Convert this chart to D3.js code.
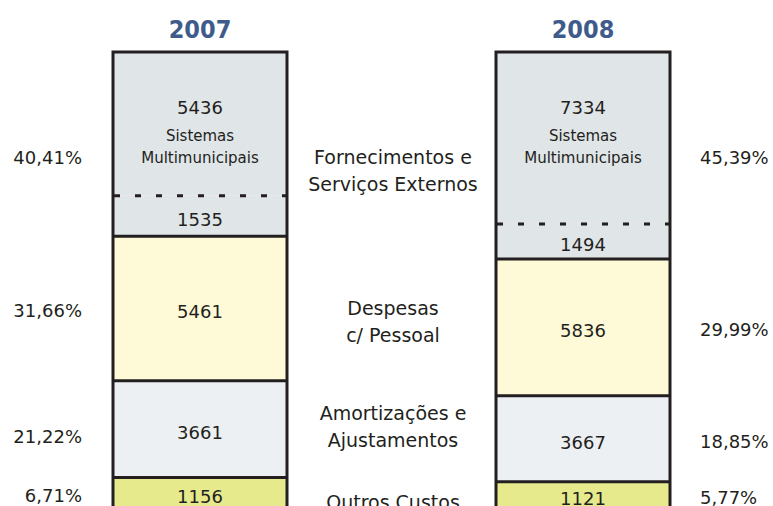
<!DOCTYPE html>
<html>
<head>
<meta charset="utf-8">
<script src="https://cdn.jsdelivr.net/npm/d3@7"></script>
<style>
  body { margin: 0; background: #fff; }
  text { font-family: "DejaVu Sans", sans-serif; fill: #231f20; }
</style>
</head>
<body>
<div id="container"></div>
<script>
/* DATA */
const years = ["2007", "2008"];
const sistemas = [5436, 7334];
const fseOutros = [1535, 1494];
const pessoal = [5461, 5836];
const amortizacoes = [3661, 3667];
const outrosCustos = [1156, 1121];
const pctLeft = ["40,41%", "31,66%", "21,22%", "6,71%"];
const pctRight = ["45,39%", "29,99%", "18,85%", "5,77%"];
const categoryLabels = [
  ["Fornecimentos e", "Serviços Externos"],
  ["Despesas", "c/ Pessoal"],
  ["Amortizações e", "Ajustamentos"],
  ["Outros Custos"]
];

/* CONSTANTS */
const width = 773, height = 506;
const barWidth = 174;
const keys = ["sistemas", "fseOutros", "pessoal", "amortizacoes", "outrosCustos"];
const fills = {
  sistemas: "#e0e5e8",
  fseOutros: "#e0e5e8",
  pessoal: "#fef9d6",
  amortizacoes: "#edf0f3",
  outrosCustos: "#e6ea8c"
};
// hand nudges for the middle labels (the original places them by eye)
const labelNudge = [2, 7, -4, 11];

const table = years.map((y, i) => ({
  year: y,
  sistemas: sistemas[i],
  fseOutros: fseOutros[i],
  pessoal: pessoal[i],
  amortizacoes: amortizacoes[i],
  outrosCustos: outrosCustos[i]
}));

const series = d3.stack().keys(keys).offset(d3.stackOffsetExpand)(table);

/* SCALES */
const xScale = d3.scalePoint().domain(years).range([200, 583]);
const yScale = d3.scaleLinear().domain([0, 1]).range([52, 508]);

const svg = d3.select("#container")
  .append("svg")
  .attr("width", width)
  .attr("height", height);

// segments
svg.selectAll("g.series")
  .data(series)
  .join("g")
  .attr("class", "series")
  .attr("fill", d => fills[d.key])
  .selectAll("rect")
  .data(d => d)
  .join("rect")
  .attr("x", d => xScale(d.data.year) - barWidth / 2)
  .attr("width", barWidth)
  .attr("y", d => yScale(d[0]))
  .attr("height", d => yScale(d[1]) - yScale(d[0]));

// boundaries between categories
const solidKeys = ["fseOutros", "pessoal", "amortizacoes"];
series.filter(s => solidKeys.includes(s.key)).forEach(s => {
  svg.selectAll(null)
    .data(s)
    .join("line")
    .attr("x1", d => xScale(d.data.year) - barWidth / 2)
    .attr("x2", d => xScale(d.data.year) + barWidth / 2)
    .attr("y1", d => yScale(d[1]))
    .attr("y2", d => yScale(d[1]))
    .attr("stroke", "#231f20")
    .attr("stroke-width", 3);
});

// dashed line between sistemas and the rest of FSE
svg.selectAll("line.dash")
  .data(series[0])
  .join("line")
  .attr("class", "dash")
  .attr("x1", d => xScale(d.data.year) - barWidth / 2 + 1)
  .attr("x2", d => xScale(d.data.year) + barWidth / 2)
  .attr("y1", d => yScale(d[1]))
  .attr("y2", d => yScale(d[1]))
  .attr("stroke", "#231f20")
  .attr("stroke-width", 3)
  .attr("stroke-dasharray", "6,15");

// outer borders
svg.selectAll("rect.border")
  .data(years)
  .join("rect")
  .attr("class", "border")
  .attr("x", d => xScale(d) - barWidth / 2)
  .attr("y", yScale(0))
  .attr("width", barWidth)
  .attr("height", yScale(1) - yScale(0))
  .attr("fill", "none")
  .attr("stroke", "#231f20")
  .attr("stroke-width", 3);

// year titles
svg.selectAll("text.year")
  .data(years)
  .join("text")
  .attr("class", "year")
  .attr("x", d => xScale(d))
  .attr("y", 38)
  .attr("text-anchor", "middle")
  .style("font-family", "'DejaVu Sans Condensed', 'DejaVu Sans', sans-serif")
  .style("font-weight", "bold")
  .style("font-size", "25px")
  .style("fill", "#3f5b8b")
  .text(d => d);

// values inside bars
const mid = d => (yScale(d[0]) + yScale(d[1])) / 2;
series.forEach(s => {
  svg.selectAll(null)
    .data(s)
    .join("text")
    .attr("x", d => xScale(d.data.year))
    .attr("y", d => s.key === "sistemas" ? yScale(d[0]) + 62 : mid(d) + 10)
    .attr("text-anchor", "middle")
    .style("font-size", "18px")
    .text(d => d.data[s.key]);
});

// "Sistemas Multimunicipais"
years.forEach(y => {
  const t = svg.append("text")
    .attr("x", xScale(y))
    .attr("y", yScale(0) + 89)
    .attr("text-anchor", "middle")
    .style("font-size", "15px");
  t.append("tspan").attr("x", xScale(y)).text("Sistemas");
  t.append("tspan").attr("x", xScale(y)).attr("dy", 22).text("Multimunicipais");
});

// row positions per category (FSE spans two stacked keys)
const groups = [["sistemas", "fseOutros"], ["pessoal"], ["amortizacoes"], ["outrosCustos"]];
const groupMid = (g, i) => {
  const first = series.find(s => s.key === g[0])[i];
  const last = series.find(s => s.key === g[g.length - 1])[i];
  return (yScale(first[0]) + yScale(last[1])) / 2;
};
const rowY = groups.map((g, gi) => {
  const m = years.map((y, i) => groupMid(g, i));
  return gi === 0 ? [d3.max(m), d3.max(m)] : m;
});

// percentages
svg.selectAll("text.pctL")
  .data(pctLeft)
  .join("text")
  .attr("class", "pctL")
  .attr("x", 82)
  .attr("y", (d, i) => rowY[i][0] + (i === 2 ? 14 : 9))
  .attr("text-anchor", "end")
  .style("font-size", "18px")
  .text(d => d);

svg.selectAll("text.pctR")
  .data(pctRight)
  .join("text")
  .attr("class", "pctR")
  .attr("x", 700)
  .attr("y", (d, i) => rowY[i][1] + 9)
  .attr("text-anchor", "start")
  .style("font-size", "18px")
  .text(d => d);

// category labels between the columns
categoryLabels.forEach((lines, i) => {
  const c = (i === 0 ? rowY[i][0] + 13 : d3.mean(rowY[i]) - 3) + labelNudge[i];
  const top = c - (lines.length - 1) * 27 / 2;
  const t = svg.append("text")
    .attr("text-anchor", "middle")
    .style("font-size", "19px");
  lines.forEach((l, j) => {
    t.append("tspan")
      .attr("x", 393)
      .attr("y", top + j * 27 + 7)
      .text(l);
  });
});
</script>
</body>
</html>
